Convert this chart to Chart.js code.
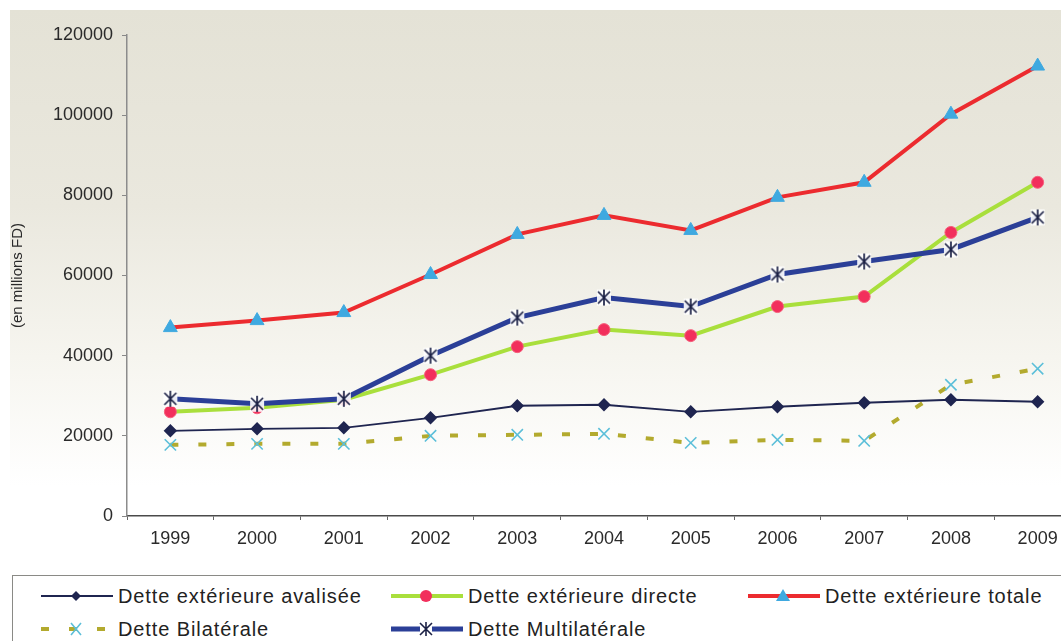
<!DOCTYPE html>
<html>
<head>
<meta charset="utf-8">
<script src="https://cdn.jsdelivr.net/npm/chart.js@4.4.1/dist/chart.umd.min.js"></script>
<style>
  html, body { margin: 0; padding: 0; background: #fff; overflow: hidden; }
  body { width: 1061px; height: 641px; position: relative; font-family: "Liberation Sans", Arial, sans-serif; }
  #bg { position: absolute; left: 10px; top: 10px; width: 1100px; height: 560px;
        background: linear-gradient(#e4e2d6 0%, #eae8de 35%, #f6f5ef 62%, #ffffff 85%); }
  #wrap { position: absolute; left: 0; top: 0; width: 1100px; height: 560px; }
  #legend { position: absolute; left: 12px; top: 575px; width: 1100px; height: 80px;
            border-top: 1.5px solid #8a8a86; border-left: 1.5px solid #8a8a86; background: #fff; }
  .item { position: absolute; display: flex; align-items: center; font-size: 20px; letter-spacing: 0.9px; color: #222; white-space: nowrap; }
  .item svg { margin-right: 3px; }
</style>
</head>
<body>
<div id="bg"></div>
<div id="wrap"><canvas id="debtChart" width="1100" height="560"></canvas></div>
<div id="legend"></div>

<script>
// Years and debt series (millions FD)
const years = ["1999", "2000", "2001", "2002", "2003", "2004", "2005", "2006", "2007", "2008", "2009"];
const avalisee     = [21250, 21750, 22000, 24500, 27500, 27750, 26000, 27250, 28250, 29000, 28500];
const directe      = [26000, 27000, 29000, 35250, 42250, 46500, 45000, 52250, 54750, 70750, 83250];
const totale       = [47000, 48750, 50750, 60250, 70250, 75000, 71250, 79500, 83250, 100250, 112250];
const bilaterale   = [17750, 18000, 18000, 20000, 20250, 20500, 18250, 19000, 18750, 32750, 36750];
const multilaterale = [29250, 28000, 29250, 40000, 49500, 54500, 52250, 60250, 63500, 66500, 74500];
const yTicks = [0, 20000, 40000, 60000, 80000, 100000, 120000];

const seriesNames = [
  "Dette extérieure avalisée",
  "Dette extérieure directe",
  "Dette extérieure totale",
  "Dette Bilatérale",
  "Dette Multilatérale"
];

const tickFont = { family: "Liberation Sans, Arial", size: 18 };

// six-armed asterisk on a small white patch, used as point image
function asterisk() {
  const c = document.createElement("canvas");
  c.width = 20; c.height = 20;
  const g = c.getContext("2d");
  g.fillStyle = "rgba(255,255,255,0.9)";
  g.fillRect(3, 2, 14, 16);
  g.strokeStyle = "#1c2145";
  g.lineWidth = 1.7;
  g.beginPath();
  g.moveTo(10, 2); g.lineTo(10, 18);
  g.moveTo(4, 4); g.lineTo(16, 16);
  g.moveTo(16, 4); g.lineTo(4, 16);
  g.stroke();
  return c;
}

const ctx = document.getElementById("debtChart").getContext("2d");
new Chart(ctx, {
  type: "line",
  data: {
    labels: years,
    datasets: [
      {
        label: seriesNames[2],
        data: totale,
        borderColor: "#ec2b2f",
        borderWidth: 4,
        pointStyle: "triangle",
        pointRadius: 8,
        pointBackgroundColor: "#3fa9e0",
        pointBorderColor: "#3fa9e0",
        pointBorderWidth: 1
      },
      {
        label: seriesNames[4],
        data: multilaterale,
        borderColor: "#2b3f97",
        borderWidth: 5,
        pointStyle: asterisk(),
        pointRadius: 8
      },
      {
        label: seriesNames[1],
        data: directe,
        borderColor: "#a9df3c",
        borderWidth: 4,
        pointStyle: "circle",
        pointRadius: 6,
        pointBackgroundColor: "#f22f5c",
        pointBorderColor: "#f5607c",
        pointBorderWidth: 1
      },
      {
        label: seriesNames[0],
        data: avalisee,
        borderColor: "#1f2550",
        borderWidth: 1.8,
        pointStyle: "rectRot",
        pointRadius: 5.5,
        pointBackgroundColor: "#1f2550",
        pointBorderColor: "#1f2550"
      },
      {
        label: seriesNames[3],
        data: bilaterale,
        borderColor: "#b3aa2e",
        borderWidth: 4,
        borderDash: [8, 20],
        pointStyle: "crossRot",
        pointRadius: 8,
        pointBorderColor: "#5cbfd9",
        pointBorderWidth: 1.6
      }
    ]
  },
  options: {
    responsive: false,
    animation: false,
    devicePixelRatio: 1,
    elements: { line: { tension: 0 } },
    layout: { padding: { top: 35, right: 19, left: 0, bottom: 0 } },
    plugins: {
      legend: { display: false },
      tooltip: { enabled: false }
    },
    scales: {
      x: {
        offset: true,
        grid: { offset: true, drawOnChartArea: false, tickLength: 4, color: "#666" },
        border: { color: "#4a4a4a", width: 1.5 },
        ticks: { color: "#2a2a2a", font: tickFont, padding: 8, maxRotation: 0 },
        afterFit: (scale) => { scale.height = 44; }
      },
      y: {
        min: 0,
        max: 120000,
        afterBuildTicks: (scale) => { scale.ticks = yTicks.map(v => ({ value: v })); },
        grid: { drawOnChartArea: false, tickLength: 5, color: "#888" },
        border: { color: "#8c8c8c", width: 1.5 },
        ticks: { color: "#2a2a2a", font: tickFont, padding: 9, callback: (v) => String(v) },
        title: {
          display: true,
          text: "(en millions FD)",
          color: "#2a2a2a",
          font: { family: "Liberation Sans, Arial", size: 15 },
          padding: { top: 9, bottom: 0 }
        },
        afterFit: (scale) => { scale.width = 127; }
      }
    }
  }
});

// Legend symbols: line segment with the series marker in the middle
const legendItems = [
  { name: seriesNames[0], left: 26,  top: 8,  line: "#1f2550", width: 1.8, dash: "", marker: "diamond", mColor: "#1f2550" },
  { name: seriesNames[1], left: 376, top: 8,  line: "#a9df3c", width: 4,   dash: "", marker: "circle",  mColor: "#f22f5c" },
  { name: seriesNames[2], left: 733, top: 8,  line: "#ec2b2f", width: 4,   dash: "", marker: "triangle", mColor: "#3fa9e0" },
  { name: seriesNames[3], left: 26,  top: 41, line: "#b3aa2e", width: 4,   dash: "8 20", marker: "cross", mColor: "#5cbfd9" },
  { name: seriesNames[4], left: 376, top: 41, line: "#2b3f97", width: 5,   dash: "", marker: "star",  mColor: "#1c2145" }
];

function markerSvg(kind, c) {
  const cx = 37, cy = 12;
  if (kind === "diamond") return `<polygon points="${cx},${cy-5} ${cx+5},${cy} ${cx},${cy+5} ${cx-5},${cy}" fill="${c}"/>`;
  if (kind === "circle") return `<circle cx="${cx}" cy="${cy}" r="6" fill="${c}"/>`;
  if (kind === "triangle") return `<polygon points="${cx},${cy-7} ${cx+7},${cy+5} ${cx-7},${cy+5}" fill="${c}"/>`;
  if (kind === "cross") return `<path d="M${cx-5} ${cy-6}L${cx+5} ${cy+6}M${cx+5} ${cy-6}L${cx-5} ${cy+6}" stroke="${c}" stroke-width="1.6"/>`;
  return `<path d="M${cx} ${cy-7}V${cy+7}M${cx-6} ${cy-6}L${cx+6} ${cy+6}M${cx+6} ${cy-6}L${cx-6} ${cy+6}" stroke="${c}" stroke-width="1.6"/>`;
}

const legendBox = document.getElementById("legend");
legendItems.forEach(it => {
  const div = document.createElement("div");
  div.className = "item";
  div.style.left = it.left + "px";
  div.style.top = it.top + "px";
  const halo = it.marker === "star" ? `<rect x="31" y="4" width="12" height="16" fill="#fff"/>` : "";
  div.innerHTML =
    `<svg width="76" height="24"><line x1="2" y1="12" x2="74" y2="12" stroke="${it.line}" stroke-width="${it.width}"` +
    (it.dash ? ` stroke-dasharray="${it.dash}"` : "") + `/>${halo}${markerSvg(it.marker, it.mColor)}</svg>` +
    `<span>${it.name}</span>`;
  legendBox.appendChild(div);
});
</script>
</body>
</html>
